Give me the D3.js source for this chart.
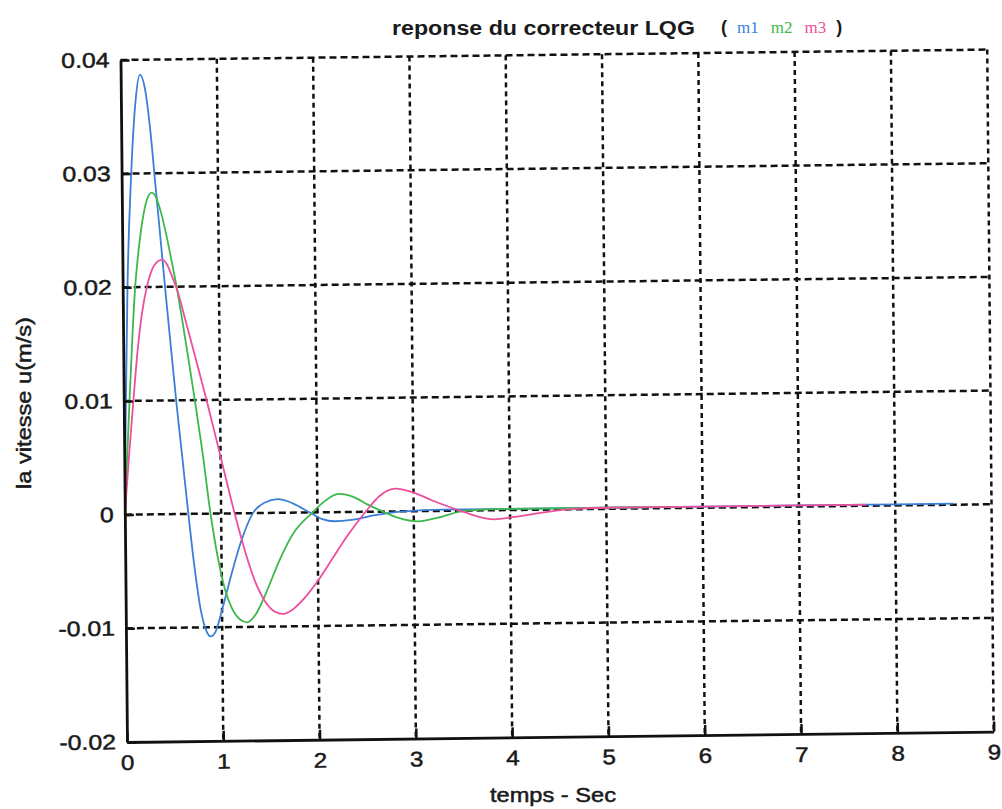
<!DOCTYPE html>
<html>
<head>
<meta charset="utf-8">
<script src="https://cdn.jsdelivr.net/npm/d3@7/dist/d3.min.js"></script>
<style>
  body { margin: 0; background: #fff; }
  text { font-family: "Liberation Sans", Arial, sans-serif; fill: #1a1a1a; }
  .heavy { stroke: #1a1a1a; stroke-width: 0.5px; }
</style>
</head>
<body>
<svg id="chart" width="1002" height="809"></svg>
<script>
// Axis ticks
const xTicks = [0, 1, 2, 3, 4, 5, 6, 7, 8, 9];
const xTickLabels = ["0", "1", "2", "3", "4", "5", "6", "7", "8", "9"];
const yTicks = [-0.02, -0.01, 0, 0.01, 0.02, 0.03, 0.04];
const yTickLabels = ["-0.02", "-0.01", "0", "0.01", "0.02", "0.03", "0.04"];

// Series names and colours
const seriesNames = ["m1", "m2", "m3"];
const seriesColors = ["#3a7fd8", "#3cb94a", "#ee4f9b"];

// m1 : time (s) and speed u (m/s)
const m1Time  = [0, 0.02, 0.05, 0.1, 0.15, 0.2, 0.25, 0.3, 0.35, 0.4, 0.45, 0.5, 0.55, 0.6, 0.66, 0.72, 0.78, 0.83, 0.88, 0.93, 1.0, 1.1, 1.2, 1.33, 1.45, 1.59, 1.75, 1.92, 2.05, 2.18, 2.35, 2.6, 2.9, 3.3, 4.0, 5.0, 6.0, 7.0, 8.0, 8.6];
const m1Speed = [0, 0.009, 0.020, 0.030, 0.0362, 0.0387, 0.0375, 0.0340, 0.0290, 0.0240, 0.0190, 0.0142, 0.0095, 0.0052, 0, -0.0048, -0.0085, -0.0102, -0.0108, -0.0104, -0.0085, -0.0054, -0.0026, 0, 0.0009, 0.0012, 0.0008, 0, -0.0006, -0.0008, -0.0007, -0.0003, 0, 0.0001, 0.0001, 0.0001, 0.0001, 0.0001, 0.0001, 0.0001];

// m2
const m2Time  = [0, 0.03, 0.06, 0.1, 0.13, 0.16, 0.2, 0.25, 0.31, 0.36, 0.41, 0.46, 0.51, 0.56, 0.62, 0.68, 0.74, 0.81, 0.89, 0.96, 1.03, 1.1, 1.18, 1.26, 1.35, 1.45, 1.6, 1.75, 1.95, 2.08, 2.22, 2.38, 2.53, 2.68, 2.85, 3.05, 3.25, 3.54, 4.0, 5.0, 5.8];
const m2Speed = [0, 0.005, 0.010, 0.0162, 0.020, 0.0226, 0.0252, 0.0274, 0.0283, 0.0278, 0.0264, 0.0245, 0.0223, 0.0200, 0.0168, 0.0134, 0.0099, 0.0056, 0, -0.0038, -0.0066, -0.0083, -0.0093, -0.0096, -0.0089, -0.0072, -0.0042, -0.0018, 0, 0.0010, 0.0016, 0.0013, 0.0006, 0, -0.0006, -0.0009, -0.0006, 0, 0.0001, 0.0001, 0.0001];

// m3
const m3Time  = [0, 0.05, 0.1, 0.15, 0.2, 0.26, 0.31, 0.36, 0.41, 0.46, 0.51, 0.57, 0.65, 0.75, 0.86, 1.0, 1.14, 1.25, 1.35, 1.45, 1.55, 1.63, 1.72, 1.85, 2.0, 2.15, 2.3, 2.5, 2.65, 2.81, 2.98, 3.2, 3.48, 3.65, 3.83, 4.05, 4.3, 4.6, 5.0, 6.0, 7.0, 7.7];
const m3Speed = [0, 0.0052, 0.0100, 0.0145, 0.0178, 0.0203, 0.0216, 0.0222, 0.0224, 0.0220, 0.0210, 0.0196, 0.0170, 0.0137, 0.0100, 0.0050, 0, -0.0035, -0.0061, -0.0078, -0.0087, -0.0089, -0.0086, -0.0076, -0.0060, -0.0041, -0.0022, 0, 0.0014, 0.0020, 0.0017, 0.0009, 0, -0.0005, -0.0008, -0.0006, -0.0003, 0, 0.0001, 0.0001, 0.0001, 0.0001];

const seriesTime = [m1Time, m2Time, m3Time];
const seriesSpeed = [m1Speed, m2Speed, m3Speed];

// Plot frame
const W = 866.7, H = 682;
const svg = d3.select("#chart");

const x = d3.scaleLinear().domain([0, 9]).range([0, W]);
const y = d3.scaleLinear().domain([-0.02, 0.04]).range([H, 0]);

// the printed page sits slightly askew: a small shear on the whole axes box
const plot = svg.append("g")
  .attr("transform", "matrix(1,-0.012,0.0095,1,120.5,60)");

// widen a text element the way the printed font is set
function widen(sel, factor) {
  sel.each(function () {
    const w = this.getComputedTextLength();
    d3.select(this).attr("textLength", w * factor).attr("lengthAdjust", "spacingAndGlyphs");
  });
}

// Grid (dotted lines at each tick, including the top and right edges)
plot.append("g").selectAll("line")
  .data(xTicks.slice(1))
  .join("line")
  .attr("x1", d => x(d)).attr("x2", d => x(d))
  .attr("y1", 0).attr("y2", H)
  .attr("stroke", "#111").attr("stroke-width", 2.5)
  .attr("stroke-dasharray", "5 4");

plot.append("g").selectAll("line")
  .data(yTicks.slice(1))
  .join("line")
  .attr("x1", 0).attr("x2", W)
  .attr("y1", d => y(d)).attr("y2", d => y(d))
  .attr("stroke", "#111").attr("stroke-width", 2.5)
  .attr("stroke-dasharray", "7 4");

// Curves
const line = d3.line()
  .x(d => x(d[0]))
  .y(d => y(d[1]))
  .curve(d3.curveMonotoneX);

seriesNames.forEach((name, i) => {
  const pts = seriesTime[i].map((t, k) => [t, seriesSpeed[i][k]]);
  plot.append("path")
    .datum(pts)
    .attr("class", "series-" + name)
    .attr("fill", "none")
    .attr("stroke", seriesColors[i])
    .attr("stroke-width", 1.8)
    .attr("stroke-linejoin", "round")
    .attr("d", line);
});

// Axes
const xAxis = plot.append("g")
  .attr("transform", `translate(0,${H})`)
  .call(d3.axisBottom(x)
    .tickValues(xTicks)
    .tickFormat((d, i) => xTickLabels[i])
    .tickSizeInner(-10)
    .tickSizeOuter(0)
    .tickPadding(13));

const yAxis = plot.append("g")
  .call(d3.axisLeft(y)
    .tickValues(yTicks)
    .tickFormat((d, i) => yTickLabels[i])
    .tickSizeInner(-9)
    .tickSizeOuter(0)
    .tickPadding(11));

[xAxis, yAxis].forEach(g => {
  g.select(".domain").attr("stroke", "#111").attr("stroke-width", 2.8);
  g.selectAll(".tick line").attr("stroke", "#111").attr("stroke-width", 2.5);
  g.selectAll(".tick text")
    .attr("class", "heavy")
    .attr("fill", "#1a1a1a")
    .style("font-family", '"Liberation Sans", Arial, sans-serif')
    .style("font-size", "21px");
});
widen(xAxis.selectAll(".tick text"), 1.15);
widen(yAxis.selectAll(".tick text"), 1.18);

// Title
const title = svg.append("text")
  .attr("x", 392).attr("y", 35)
  .style("font-size", "20px")
  .style("font-weight", "bold")
  .text("reponse du correcteur LQG");
widen(title, 1.16);

const legendText = svg.append("text")
  .attr("x", 721).attr("y", 33)
  .style("font-family", '"Liberation Serif", "DejaVu Serif", serif')
  .style("font-size", "17px");
legendText.append("tspan").style("font-family", '"Liberation Sans", Arial, sans-serif')
  .style("font-weight", "bold").style("font-size", "18px").attr("fill", "#1a1a1a").text("(");
seriesNames.forEach((name, i) => {
  legendText.append("tspan").attr("dx", i === 0 ? 10 : 12).attr("fill", seriesColors[i]).text(name);
});
legendText.append("tspan").attr("dx", 10).style("font-family", '"Liberation Sans", Arial, sans-serif')
  .style("font-weight", "bold").style("font-size", "18px").attr("fill", "#1a1a1a").text(")");

// Axis titles
const xTitle = svg.append("text")
  .attr("class", "heavy")
  .attr("x", 553).attr("y", 802)
  .attr("text-anchor", "middle")
  .style("font-size", "20px")
  .text("temps - Sec");
widen(xTitle, 1.18);

const yTitle = svg.append("text")
  .attr("class", "heavy")
  .attr("transform", "translate(31,403) rotate(-90)")
  .attr("text-anchor", "middle")
  .style("font-size", "20px")
  .text("la vitesse u(m/s)");
widen(yTitle, 1.18);
</script>
</body>
</html>
